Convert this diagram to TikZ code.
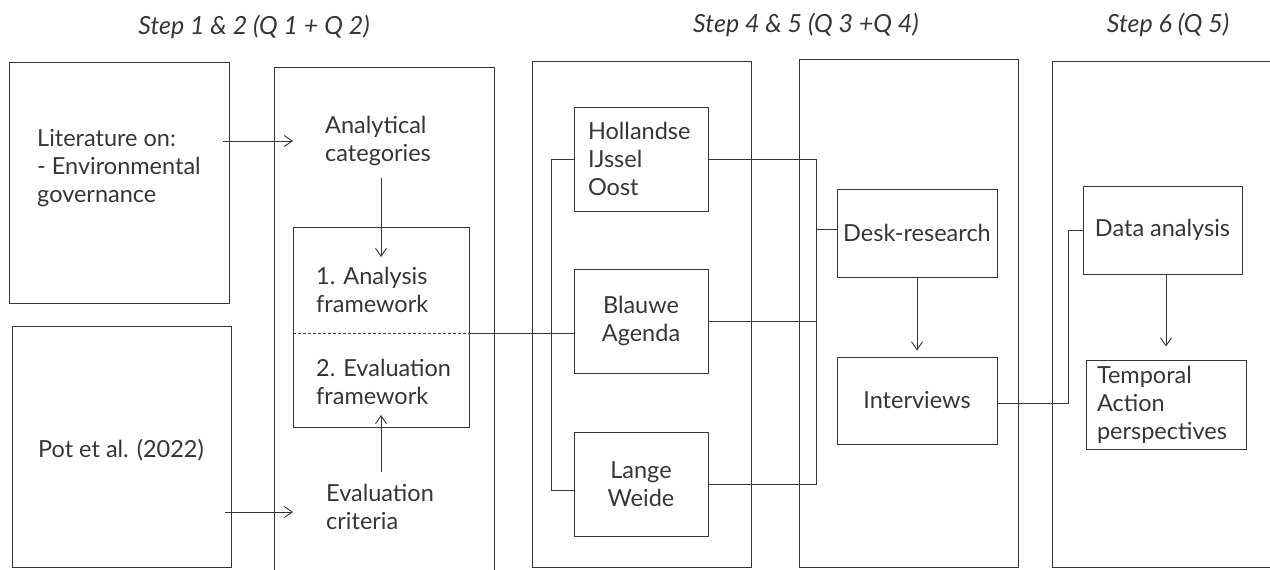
\documentclass[tikz,border=0pt]{standalone}
\usepackage{fontspec}
\setmainfont{Lato}
\usetikzlibrary{arrows.meta}
\definecolor{ink}{HTML}{363636}
\begin{document}
\begin{tikzpicture}[x=1pt,y=-1pt,
  every node/.style={font=\fontsize{23.5}{28}\selectfont, text=ink},
  frame/.style={draw=ink, line width=0.9pt, inner sep=0pt, rectangle},
  boxed/.style={draw=ink, line width=0.9pt, rectangle, inner sep=0pt},
  txt/.style={inner sep=0pt, align=left},
  link/.style={draw=ink, line width=0.9pt},
  arr/.style={link, -{Straight Barb[length=8pt,width=11pt,line width=0.9pt]}},
  steptitle/.style={inner sep=0pt, font=\fontsize{25}{30}\selectfont\itshape}
]
\useasboundingbox (0,0) rectangle (1270,570);

% step titles
\node[steptitle] (t12) at (254,27) {Step 1 \& 2 (Q 1 + Q 2)};
\node[steptitle] (t45) at (806,25) {Step 4 \& 5 (Q 3 +Q 4)};
\node[steptitle] (t6)  at (1168,25) {Step 6 (Q 5)};

% column frames
\node[frame, minimum width=220pt, minimum height=241pt] (litbox) at (119,182.5) {};
\node[frame, minimum width=219pt, minimum height=241pt] (potbox) at (121.5,446.5) {};
\node[frame, minimum width=220pt, minimum height=513pt] (col2) at (384,323.5) {};
\node[frame, minimum width=219pt, minimum height=506pt] (col3) at (641.5,314) {};
\node[frame, minimum width=219pt, minimum height=508pt] (col4) at (908.5,313) {};
\node[frame, minimum width=238pt, minimum height=506pt] (col5) at (1171,314) {};

% column 1 texts
\node[txt, anchor=west] (littxt) at (37,168) {Literature on:\\- Environmental\\governance};
\node[txt] (pottxt) at (121,450) {Pot et al. (2022)};

% column 2
\node[txt, anchor=west] (anc) at (325,141) {Analytical\\categories};
\node[frame, minimum width=176pt, minimum height=200pt] (fw) at (381,327) {};
\node[txt, anchor=west] (fw1) at (316,290) {1. Analysis\\framework};
\node[txt, anchor=west] (fw2) at (316,382) {2. Evaluation\\framework};
\node[txt, anchor=west] (ev) at (326,507) {Evaluation\\criteria};
\coordinate (split) at (381,333);

% column 3: cases
\node[boxed, minimum width=134pt, minimum height=104pt, align=left,
      text width=106pt, inner xsep=14pt] (hol) at (641,159) {Hollandse\\IJssel\\Oost};
\node[boxed, minimum width=134pt, minimum height=104pt, align=center] (bla) at (641,321) {Blauwe\\Agenda};
\node[boxed, minimum width=134pt, minimum height=104pt, align=center] (lan) at (641,484) {Lange\\Weide};
\coordinate (busL) at (551,0);
\coordinate (busR) at (816,0);

% column 4: methods
\node[boxed, minimum width=160pt, minimum height=88pt] (desk) at (917,233) {Desk-research};
\node[boxed, minimum width=160pt, minimum height=87pt] (int) at (917,400.5) {Interviews};
\coordinate (busT) at (1068,0);

% column 5: analysis
\node[boxed, minimum width=159pt, minimum height=88pt] (data) at (1162.5,230) {Data analysis};
\node[boxed, minimum width=160pt, minimum height=89pt, align=left,
      text width=138pt, inner xsep=11pt] (temp) at (1166,404.5) {Temporal\\Action\\perspectives};

% connectors, steps 1 & 2
\draw[arr] ([xshift=-6pt]litbox.east |- anc.west) -- ([xshift=-32pt]anc.west);
\draw[arr] ([xshift=-6pt]potbox.east |- 0,512) -- ([xshift=-33pt]ev.west |- 0,512);
\draw[arr] (anc.south -| split) ++(0,12) -- ([yshift=10pt]fw1.north -| split);
\draw[arr] (ev.north -| split) ++(0,-12) -- ([yshift=-10pt]fw2.south -| split);
\draw[link, dashed, dash pattern=on 3pt off 2pt] (split -| fw.west) -- (split -| fw.east);
\draw[link] (split -| fw.east) -- (split -| bla.west);

% connectors, steps 4 & 5
\draw[link] (hol.west) -- (hol.west -| busL) -- ([yshift=-6pt]lan.west -| busL) -- ([yshift=-6pt]lan.west);
\draw[link] (hol.east) -- (hol.east -| busR) -- (lan.east -| busR) -- (lan.east);
\draw[link] (bla.east) -- (bla.east -| busR);
\draw[link] ([yshift=4pt]desk.west -| busR) -- ([yshift=4pt]desk.west);
\draw[arr] (desk.south) -- ([yshift=6pt]int.north);

% connectors, step 6
\draw[link] ([yshift=-3pt]int.east) -- ([yshift=-3pt]int.east -| busT) -- (data.west -| busT) -- (data.west);
\draw[arr] (data.south -| temp.north) -- ([yshift=13pt]temp.north);
\end{tikzpicture}
\end{document}
